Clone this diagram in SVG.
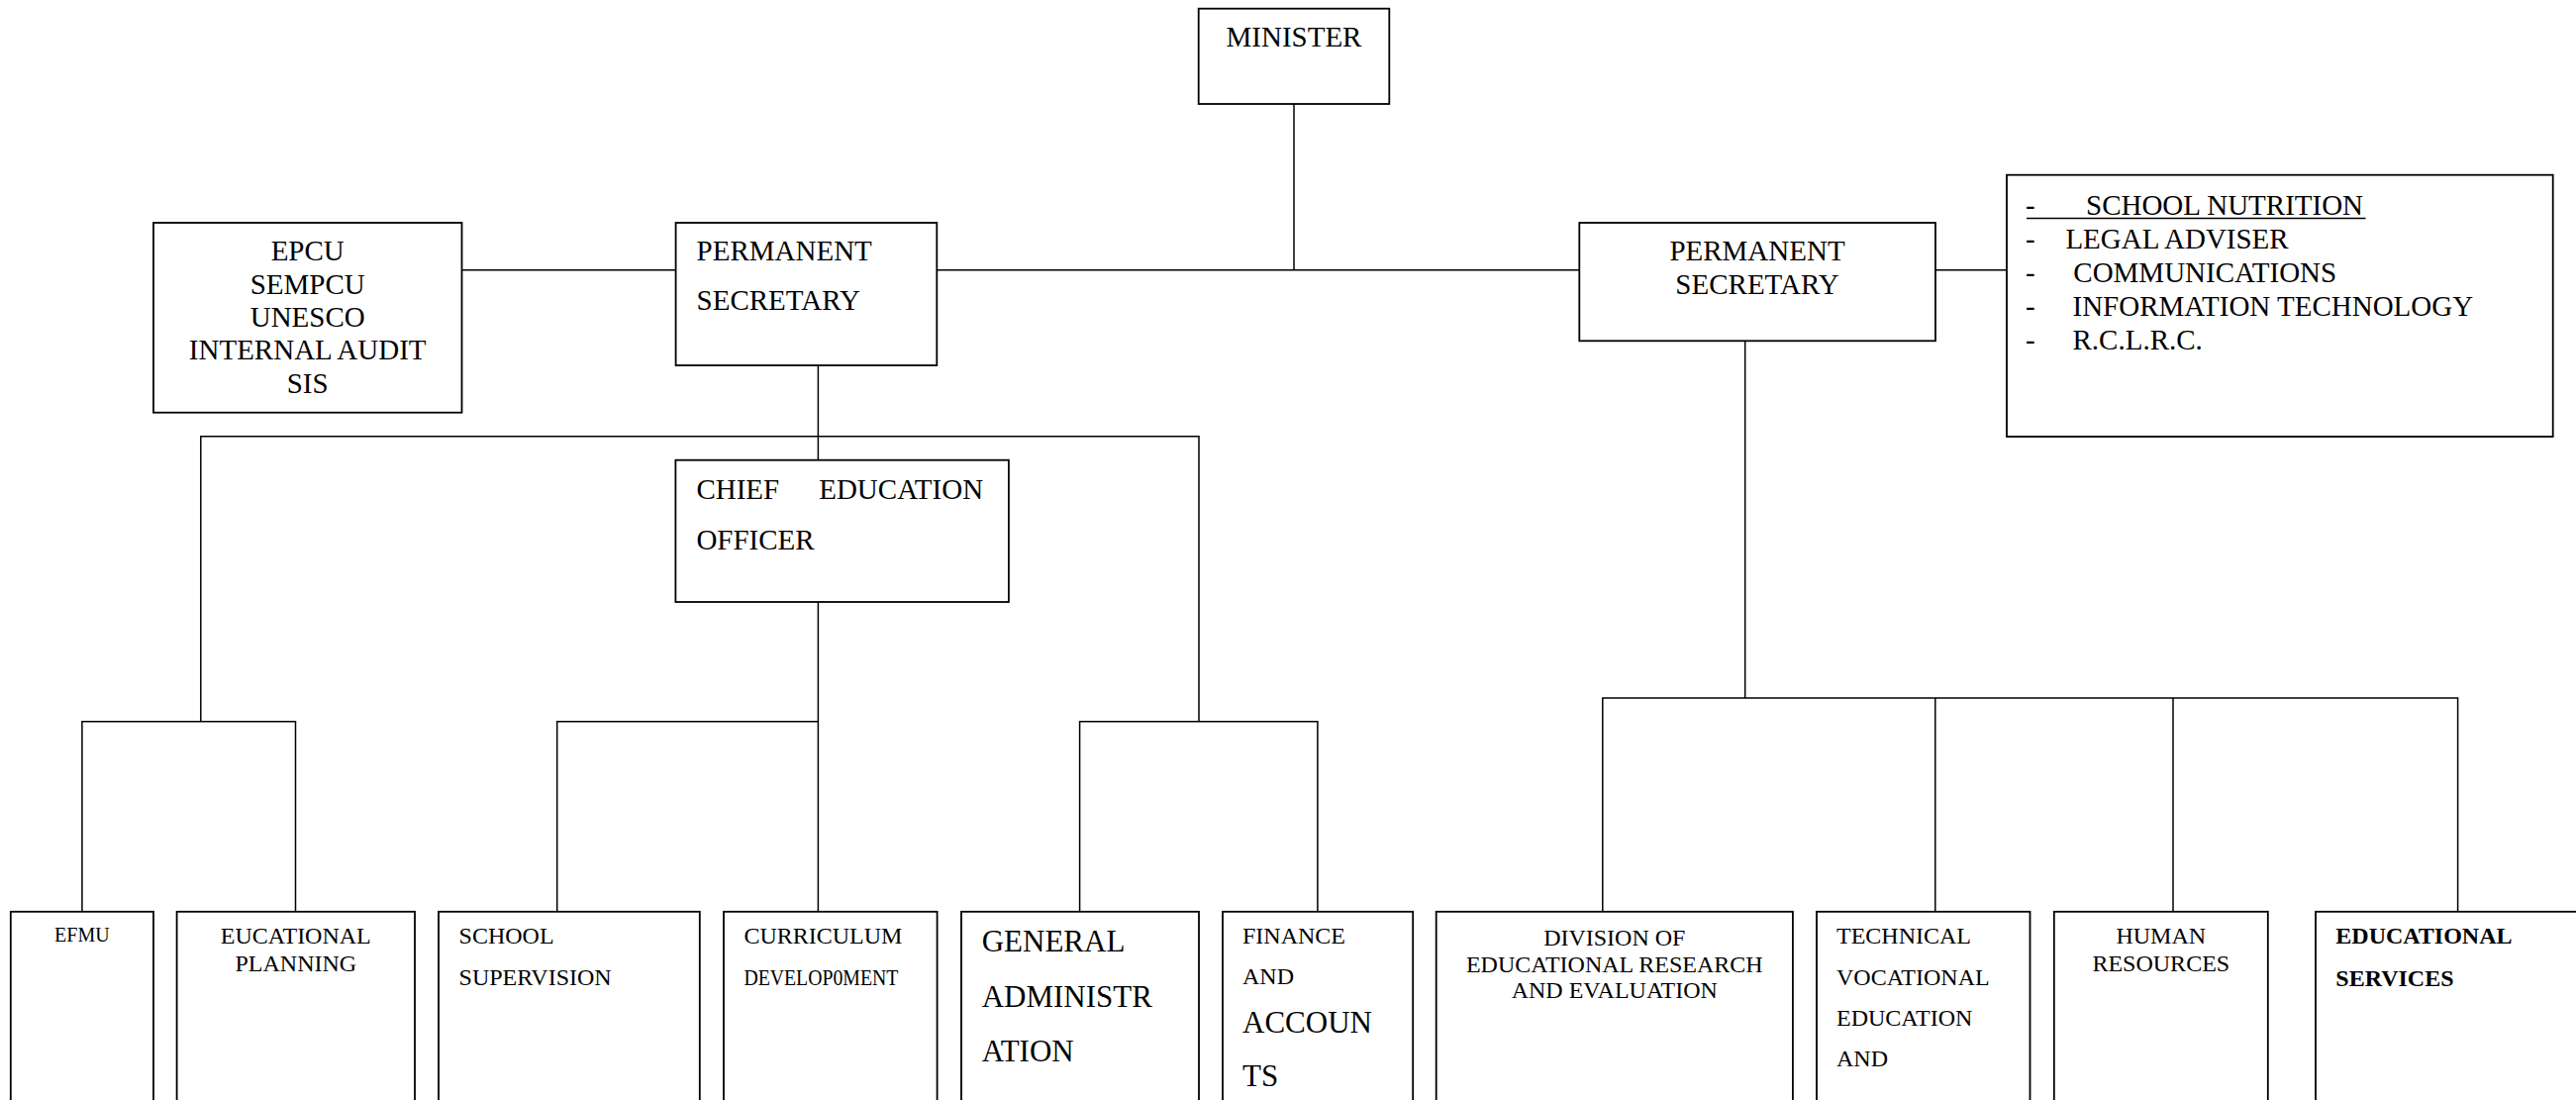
<svg xmlns="http://www.w3.org/2000/svg" width="2602" height="1111" viewBox="0 0 2602 1111">
<style>
.box{fill:#fff;stroke:#000;stroke-width:1.8}
.con{fill:none;stroke:#000;stroke-width:1.5}
text{font-family:"Liberation Serif","Times New Roman",serif;fill:#000}
.t29{font-size:29px}
.t31{font-size:31px}
.t24{font-size:24px}
.t20{font-size:20px}
.c{text-anchor:middle}
.b{font-weight:bold}
</style>
<rect width="2602" height="1111" fill="#fff"/>
<g id="connectors">
<path class="con" d="M1307 105V272.7"/>
<path class="con" d="M946.3 272.7H1595.3"/>
<path class="con" d="M466.5 272.7H682.6"/>
<path class="con" d="M1955 272.7H2027"/>
<path class="con" d="M826.4 369V464.7"/>
<path class="con" d="M202.8 728.8V440.8H1211V728.8"/>
<path class="con" d="M82.9 920.8V728.8H298.5V920.8"/>
<path class="con" d="M826.4 608V920.8"/>
<path class="con" d="M562.7 920.8V728.8H826.4"/>
<path class="con" d="M1090.6 920.8V728.8H1330.9V920.8"/>
<path class="con" d="M1762.7 344.3V705"/>
<path class="con" d="M1618.8 920.8V705H2482.6V920.8"/>
<path class="con" d="M1954.8 705V920.8"/>
<path class="con" d="M2195 705V920.8"/>
</g>
<g id="minister">
<rect class="box" x="1210.7" y="8.7" width="192.6" height="96.3"/>
<text class="t29 c" x="1307" y="46.7">MINISTER</text>
</g>
<g id="epcu">
<rect class="box" x="155" y="225" width="311.5" height="191.7"/>
<text class="t29 c" x="310.7" y="263.3">EPCU</text>
<text class="t29 c" x="310.7" y="296.7">SEMPCU</text>
<text class="t29 c" x="310.7" y="330">UNESCO</text>
<text class="t29 c" x="310.7" y="363.3">INTERNAL AUDIT</text>
<text class="t29 c" x="310.7" y="397">SIS</text>
</g>
<g id="ps-left">
<rect class="box" x="682.6" y="225" width="263.7" height="144"/>
<text class="t29" x="703.6" y="263.3">PERMANENT</text>
<text class="t29" x="703.6" y="313.3">SECRETARY</text>
</g>
<g id="ps-right">
<rect class="box" x="1595.3" y="225" width="359.7" height="119.3"/>
<text class="t29 c" x="1775" y="263.3">PERMANENT</text>
<text class="t29 c" x="1775" y="296.7">SECRETARY</text>
</g>
<g id="units-list">
<rect class="box" x="2027" y="176.7" width="551.7" height="264.3"/>
<text class="t29" x="2046" y="216.5">-</text>
<text class="t29" x="2107" y="216.5">SCHOOL NUTRITION</text>
<line x1="2047" y1="220.5" x2="2389.5" y2="220.5" stroke="#000" stroke-width="1.5"/>
<text class="t29" x="2046" y="250.5">-</text>
<text class="t29" x="2086.4" y="250.5">LEGAL ADVISER</text>
<text class="t29" x="2046" y="284.5">-</text>
<text class="t29" x="2094.3" y="284.5">COMMUNICATIONS</text>
<text class="t29" x="2046" y="318.5">-</text>
<text class="t29" x="2093.5" y="318.5">INFORMATION TECHNOLOGY</text>
<text class="t29" x="2046" y="352.5">-</text>
<text class="t29" x="2093.5" y="352.5">R.C.L.R.C.</text>
</g>
<g id="chief">
<rect class="box" x="682.4" y="464.7" width="336.5" height="143.3"/>
<text class="t29" x="703.4" y="503.8">CHIEF</text>
<text class="t29" x="827.2" y="503.8">EDUCATION</text>
<text class="t29" x="703.4" y="555">OFFICER</text>
</g>
<g id="efmu">
<rect class="box" x="10.8" y="920.8" width="144.2" height="220"/>
<text class="t20 c" x="82.9" y="951">EFMU</text>
</g>
<g id="edu-planning">
<rect class="box" x="178.6" y="920.8" width="240.4" height="220"/>
<text class="t24 c" x="298.8" y="953.4">EUCATIONAL</text>
<text class="t24 c" x="298.8" y="980.7">PLANNING</text>
</g>
<g id="school-supervision">
<rect class="box" x="443" y="920.8" width="263.8" height="220"/>
<text class="t24" x="463.6" y="953.3">SCHOOL</text>
<text class="t24" x="463.6" y="995">SUPERVISION</text>
</g>
<g id="curriculum">
<rect class="box" x="731" y="920.8" width="215.6" height="220"/>
<text class="t24" x="751.4" y="953.3">CURRICULUM</text>
<text class="t24" x="751.4" y="995" textLength="156" lengthAdjust="spacingAndGlyphs">DEVELOP0MENT</text>
</g>
<g id="general-admin">
<rect class="box" x="971" y="920.8" width="240" height="220"/>
<text class="t31" x="991.7" y="961">GENERAL</text>
<text class="t31" x="991.7" y="1016.7">ADMINISTR</text>
<text class="t31" x="991.7" y="1071.7">ATION</text>
</g>
<g id="finance">
<rect class="box" x="1235" y="920.8" width="192.2" height="220"/>
<text class="t24" x="1255" y="953.3">FINANCE</text>
<text class="t24" x="1255" y="994.3">AND</text>
<text class="t31" x="1255" y="1043.3">ACCOUN</text>
<text class="t31" x="1255" y="1096.7">TS</text>
</g>
<g id="research">
<rect class="box" x="1450.7" y="920.8" width="360.2" height="220"/>
<text class="t24 c" x="1630.8" y="955">DIVISION OF</text>
<text class="t24 c" x="1630.8" y="981.7">EDUCATIONAL RESEARCH</text>
<text class="t24 c" x="1630.8" y="1008.3">AND EVALUATION</text>
</g>
<g id="tvet">
<rect class="box" x="1835" y="920.8" width="215.5" height="220"/>
<text class="t24" x="1855" y="953.3">TECHNICAL</text>
<text class="t24" x="1855" y="994.6">VOCATIONAL</text>
<text class="t24" x="1855" y="1035.8">EDUCATION</text>
<text class="t24" x="1855" y="1077">AND</text>
</g>
<g id="human-resources">
<rect class="box" x="2074.8" y="920.8" width="216" height="220"/>
<text class="t24 c" x="2182.8" y="953.3">HUMAN</text>
<text class="t24 c" x="2182.8" y="980.7">RESOURCES</text>
</g>
<g id="edu-services">
<rect class="box" x="2339" y="920.8" width="290" height="220"/>
<text class="t24 b" x="2359.3" y="953.3">EDUCATIONAL</text>
<text class="t24 b" x="2359.3" y="995.7">SERVICES</text>
</g>
</svg>
